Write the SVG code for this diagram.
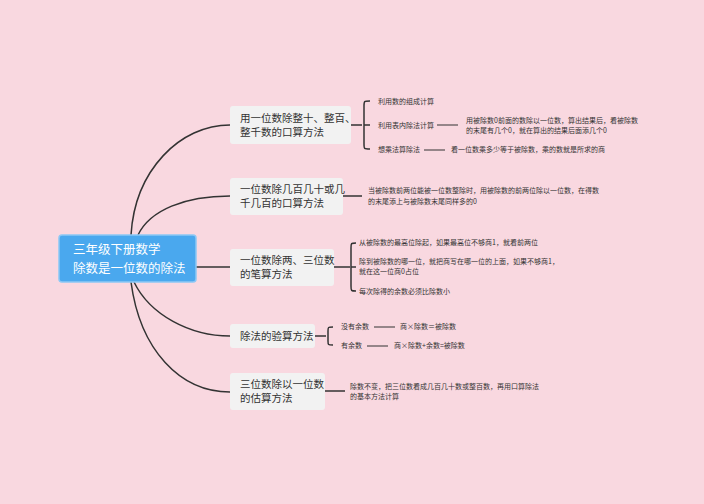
<svg xmlns="http://www.w3.org/2000/svg" width="704" height="504" viewBox="0 0 704 504">
<style>
text{font-family:"Noto Sans CJK SC","Liberation Sans",sans-serif;fill:#333}
.n{font-size:10.5px}
.s{font-size:7px}
.b{fill:#f2f2f2;stroke:none}
.c{fill:none;stroke:#333;stroke-width:1.5}
.t{fill:none;stroke:#333;stroke-width:1}
</style>
<rect width="704" height="504" fill="#f9d8e0"/>
<g id="connectors">
<path class="c" d="M131,235 C135,170 180,125 230,125"/>
<path class="c" d="M138,235 C150,210 185,196 230,196"/>
<path class="c" d="M195,267 H230"/>
<path class="c" d="M134,282 C150,315 190,336 230,336"/>
<path class="c" d="M131,282 C140,350 180,392 230,392"/>
<path class="c" d="M350,125 H362 M370,101 C364,101 364,101 364,106 V144 C364,149 364,149 370,149 M364,125 H370"/>
<path class="t" d="M437,125 H458 M424,150 H445"/>
<path class="c" d="M342,196 H362"/>
<path class="c" d="M333,267 H350 M356,243 C351,243 351,243 351,248 V286 C351,291 351,291 356,291 M351,267 H356"/>
<path class="c" d="M315,336 H326 M333,327 C328,327 328,327 328,331 V341 C328,345 328,345 333,345"/>
<path class="t" d="M374,327 H395 M367,346 H388"/>
<path class="c" d="M324,391 H345"/>
</g>
<g id="root">
<rect x="59" y="235" width="137" height="47" rx="3" fill="#4aa8ee" stroke="#8cc8f5" stroke-width="1.5"/>
<text x="73" y="254" style="font-size:12.5px;fill:#fff">三年级下册数学</text>
<text x="73" y="273" style="font-size:12.5px;fill:#fff">除数是一位数的除法</text>
</g>
<g id="n1">
<rect class="b" x="230" y="106" width="121" height="38" rx="3"/>
<text class="n" x="240" y="122">用一位数除整十、整百、</text>
<text class="n" x="240" y="136">整千数的口算方法</text>
<text class="s" x="378" y="104">利用数的组成计算</text>
<text class="s" x="378" y="128">利用表内除法计算</text>
<text class="s" x="466" y="123">用被除数0前面的数除以一位数，算出结果后，看被除数</text>
<text class="s" x="466" y="133">的末尾有几个0，就在算出的结果后面添几个0</text>
<text class="s" x="378" y="152">想乘法算除法</text>
<text class="s" x="451" y="152">看一位数乘多少等于被除数，乘的数就是所求的商</text>
</g>
<g id="n2">
<rect class="b" x="230" y="178" width="113" height="37" rx="3"/>
<text class="n" x="240" y="193">一位数除几百几十或几</text>
<text class="n" x="240" y="207">千几百的口算方法</text>
<text class="s" x="368" y="193">当被除数前两位能被一位数整除时，用被除数的前两位除以一位数，在得数</text>
<text class="s" x="368" y="204">的末尾添上与被除数末尾同样多的0</text>
</g>
<g id="n3">
<rect class="b" x="230" y="249" width="104" height="37" rx="3"/>
<text class="n" x="240" y="264">一位数除两、三位数</text>
<text class="n" x="240" y="278">的笔算方法</text>
<text class="s" x="359" y="245">从被除数的最高位除起，如果最高位不够商1，就看前两位</text>
<text class="s" x="359" y="264">除到被除数的哪一位，就把商写在哪一位的上面，如果不够商1，</text>
<text class="s" x="359" y="274">就在这一位商0占位</text>
<text class="s" x="359" y="294">每次除得的余数必须比除数小</text>
</g>
<g id="n4">
<rect class="b" x="230" y="324" width="85" height="24" rx="3"/>
<text class="n" x="240" y="340">除法的验算方法</text>
<text class="s" x="341" y="329">没有余数</text>
<text class="s" x="400" y="329">商×除数＝被除数</text>
<text class="s" x="341" y="348">有余数</text>
<text class="s" x="394" y="348">商×除数+余数=被除数</text>
</g>
<g id="n5">
<rect class="b" x="230" y="373" width="95" height="37" rx="3"/>
<text class="n" x="240" y="388">三位数除以一位数</text>
<text class="n" x="240" y="402">的估算方法</text>
<text class="s" x="350" y="389">除数不变，把三位数看成几百几十数或整百数，再用口算除法</text>
<text class="s" x="350" y="399">的基本方法计算</text>
</g>
</svg>
